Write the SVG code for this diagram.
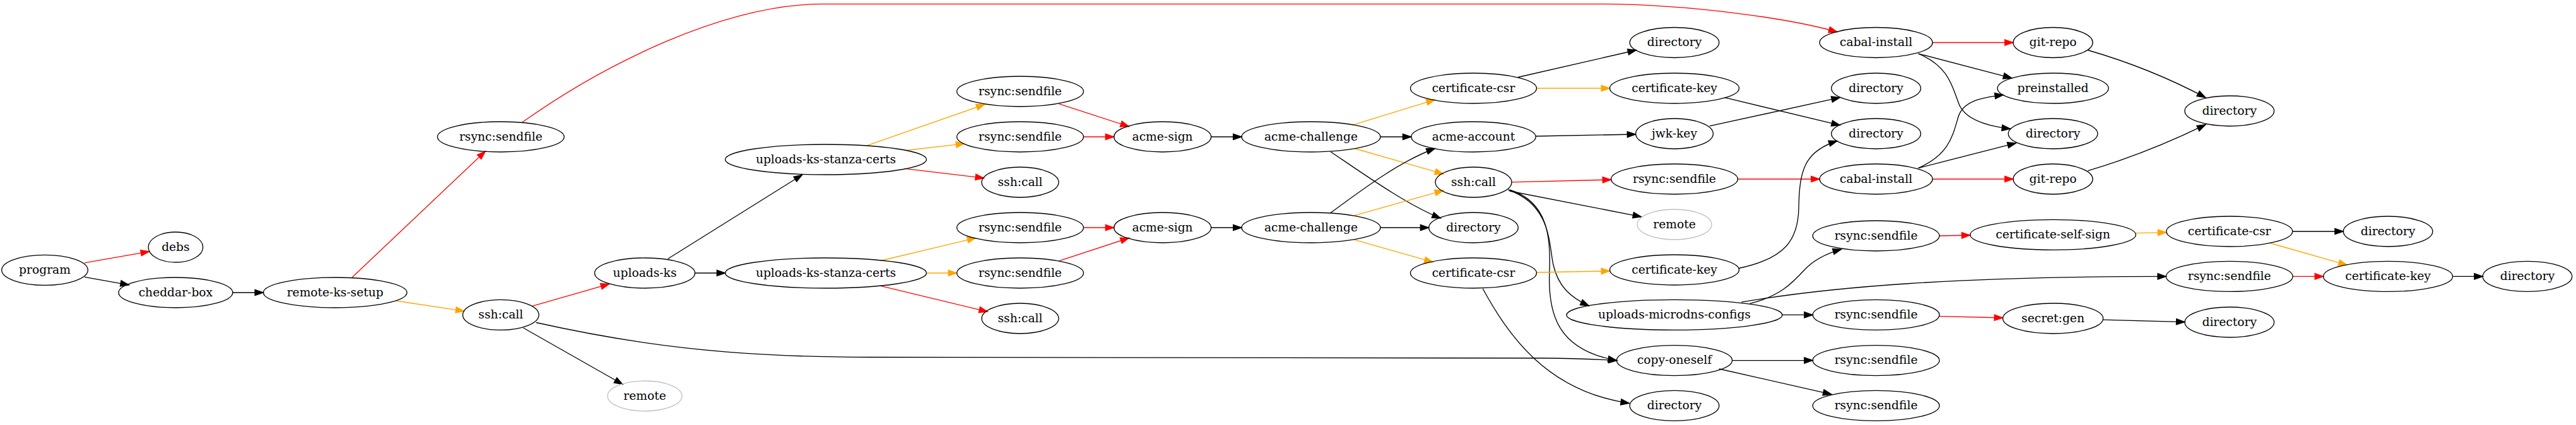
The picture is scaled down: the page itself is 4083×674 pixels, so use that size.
<svg xmlns="http://www.w3.org/2000/svg" width="4083" height="674" viewBox="0 0 4083 674">
<style>
ellipse{fill:none;stroke:#000;stroke-width:1.33}
ellipse.g{stroke:#c0c0c0}
text{font-family:"DejaVu Serif","Liberation Serif",serif;font-size:18.67px;text-anchor:middle;fill:#000}
path.e{fill:none;stroke-width:1.33}
.k{stroke:#000}
.r{stroke:#ff0000}
.o{stroke:#ffa500}
</style>
<defs>
<marker id="ak" markerUnits="userSpaceOnUse" markerWidth="16" markerHeight="12" refX="13.33" refY="4.67" orient="auto" overflow="visible"><path d="M0,0 L13.33,4.67 L0,9.33 Z" fill="#000" stroke="#000" stroke-width="1.33"/></marker>
<marker id="ar" markerUnits="userSpaceOnUse" markerWidth="16" markerHeight="12" refX="13.33" refY="4.67" orient="auto" overflow="visible"><path d="M0,0 L13.33,4.67 L0,9.33 Z" fill="#ff0000" stroke="#ff0000" stroke-width="1.33"/></marker>
<marker id="ao" markerUnits="userSpaceOnUse" markerWidth="16" markerHeight="12" refX="13.33" refY="4.67" orient="auto" overflow="visible"><path d="M0,0 L13.33,4.67 L0,9.33 Z" fill="#ffa500" stroke="#ffa500" stroke-width="1.33"/></marker>
</defs>
<rect width="4083" height="674" fill="#fff"/>
<g id="edges">
<path class="e r" marker-end="url(#ar)" d="M133.9,416.9 L236.6,398.9"/>
<path class="e k" marker-end="url(#ak)" d="M133.9,439.3 L204.4,451.8"/>
<path class="e k" marker-end="url(#ak)" d="M368.8,464 L417.4,464"/>
<path class="e r" marker-end="url(#ar)" d="M558,440 L769.3,239.8"/>
<path class="e o" marker-end="url(#ao)" d="M627.2,477 L735.8,493.4"/>
<path class="e r" marker-end="url(#ar)" d="M827.3,194.3 C960,100 1150,6.4 1305,6.4 L2531,6.4 C2680,6.4 2840,30 2912,50.7"/>
<path class="e r" marker-end="url(#ar)" d="M843,485.7 L965.7,450.4"/>
<path class="e k" marker-end="url(#ak)" d="M829.5,520 L987,609.5"/>
<path class="e k" marker-end="url(#ak)" d="M849.6,511.5 C1000,545 1150,566.5 1380,566.5 L2450,568 C2500,568 2530,570 2563,571.6"/>
<path class="e k" marker-end="url(#ak)" d="M1058.5,410.5 L1271.5,277.2"/>
<path class="e k" marker-end="url(#ak)" d="M1101.5,433 L1149.6,433"/>
<path class="e o" marker-end="url(#ao)" d="M1373.4,231.2 L1560.9,165.5"/>
<path class="e o" marker-end="url(#ao)" d="M1435.9,238.5 L1528.7,227.8"/>
<path class="e r" marker-end="url(#ar)" d="M1433.7,267.3 L1559.5,282.4"/>
<path class="e o" marker-end="url(#ao)" d="M1395.7,413.5 L1546.6,377.4"/>
<path class="e o" marker-end="url(#ao)" d="M1468.5,433 L1516.6,433"/>
<path class="e r" marker-end="url(#ar)" d="M1395.7,453.4 L1565.3,494.3"/>
<path class="e r" marker-end="url(#ar)" d="M1678.3,164.6 L1789.4,200.7"/>
<path class="e r" marker-end="url(#ar)" d="M1717.4,217 L1765.6,217"/>
<path class="e r" marker-end="url(#ar)" d="M1717.4,361 L1765.6,361"/>
<path class="e r" marker-end="url(#ar)" d="M1678.3,413.9 L1789.4,377.4"/>
<path class="e k" marker-end="url(#ak)" d="M1919.6,217 L1968,217"/>
<path class="e k" marker-end="url(#ak)" d="M1919.6,361 L1968,361"/>
<path class="e o" marker-end="url(#ao)" d="M2142.7,198.6 L2274.4,158.2"/>
<path class="e k" marker-end="url(#ak)" d="M2188,217 L2236.8,217"/>
<path class="e o" marker-end="url(#ao)" d="M2147.1,235.5 L2287.8,275.9"/>
<path class="e k" marker-end="url(#ak)" d="M2109.2,240.7 C2160,275 2230,325 2283.3,346"/>
<path class="e k" marker-end="url(#ak)" d="M2109.2,337.4 C2160,300 2220,255 2274.4,235.5"/>
<path class="e o" marker-end="url(#ao)" d="M2147.1,341.7 L2287.8,302.1"/>
<path class="e k" marker-end="url(#ak)" d="M2188,361 L2264.7,361"/>
<path class="e o" marker-end="url(#ao)" d="M2147.1,380.4 L2271.2,415.6"/>
<path class="e k" marker-end="url(#ak)" d="M2406,122.5 L2593.5,79.5"/>
<path class="e o" marker-end="url(#ao)" d="M2435.5,140 L2551.5,140"/>
<path class="e k" marker-end="url(#ak)" d="M2434.2,216 L2592.6,213"/>
<path class="e r" marker-end="url(#ar)" d="M2396,288.8 L2553.6,285"/>
<path class="e k" marker-end="url(#ak)" d="M2392.7,303 L2601.6,343.8"/>
<path class="e k" marker-end="url(#ak)" d="M2390.4,301 C2460,325 2455,390 2462,420 C2470,455 2490,472 2518.5,485"/>
<path class="e k" marker-end="url(#ak)" d="M2392.7,301 C2455,320 2458,380 2456,430 C2453,500 2470,555 2562.3,571.6"/>
<path class="e o" marker-end="url(#ao)" d="M2435.5,432 L2551.5,429.8"/>
<path class="e k" marker-end="url(#ak)" d="M2350.2,457.7 C2390,530 2450,620 2582.4,639.5"/>
<path class="e k" marker-end="url(#ak)" d="M2733.4,154.7 L2916.4,198.6"/>
<path class="e k" marker-end="url(#ak)" d="M2709.6,199.9 L2916.4,154.7"/>
<path class="e r" marker-end="url(#ar)" d="M2754.4,284 L2884.1,284"/>
<path class="e k" marker-end="url(#ak)" d="M2755.7,425.5 C2830,410 2850,380 2851,330 C2852,270 2860,240 2912,223.5"/>
<path class="e k" marker-end="url(#ak)" d="M2773.6,481.4 C2820,470 2840,450 2860,428 C2875,412 2895,402 2918.6,395.4"/>
<path class="e k" marker-end="url(#ak)" d="M2825,499.4 L2873.2,499.4"/>
<path class="e k" marker-end="url(#ak)" d="M2760.2,479.2 C2900,455 3100,438.4 3433.3,438.4"/>
<path class="e k" marker-end="url(#ak)" d="M2745.6,571.6 L2873.2,571.6"/>
<path class="e k" marker-end="url(#ak)" d="M2725,585 L2903,625.4"/>
<path class="e r" marker-end="url(#ar)" d="M3063.1,67.5 L3191,67.5"/>
<path class="e k" marker-end="url(#ak)" d="M3040.5,85.1 L3188.7,123.8"/>
<path class="e k" marker-end="url(#ak)" d="M3040.5,85.1 C3090,105 3095,140 3105,165 C3115,190 3150,200 3186.5,204.2"/>
<path class="e k" marker-end="url(#ak)" d="M3040.5,266.5 C3090,245 3095,215 3104,185 C3112,160 3140,155 3175.3,150.4"/>
<path class="e k" marker-end="url(#ak)" d="M3040.5,266.5 L3195.4,226.9"/>
<path class="e r" marker-end="url(#ar)" d="M3063.1,284 L3191,284"/>
<path class="e k" marker-end="url(#ak)" d="M3309.2,79.5 C3380,100 3440,125 3495.8,154.7"/>
<path class="e k" marker-end="url(#ak)" d="M3309.2,270.8 C3380,250 3440,225 3495.8,197.7"/>
<path class="e r" marker-end="url(#ar)" d="M3074,374 L3122.7,373"/>
<path class="e r" marker-end="url(#ar)" d="M3074,501.6 L3174.5,504"/>
<path class="e o" marker-end="url(#ao)" d="M3385.3,369.6 L3433.7,368.6"/>
<path class="e k" marker-end="url(#ak)" d="M3333.5,507.2 L3462.9,510.6"/>
<path class="e k" marker-end="url(#ak)" d="M3633.7,367 L3714.2,367"/>
<path class="e o" marker-end="url(#ao)" d="M3598.2,385.5 L3720.2,420.3"/>
<path class="e r" marker-end="url(#ar)" d="M3634.1,438.4 L3682.5,438.4"/>
<path class="e k" marker-end="url(#ak)" d="M3887.5,438.4 L3935.2,438.4"/>
</g>
<g id="n-program"><ellipse cx="71" cy="428.3" rx="68.3" ry="24"/><text x="71" y="434">program</text></g>
<g id="n-debs"><ellipse cx="278.4" cy="392" rx="43.3" ry="24"/><text x="278.4" y="397.6">debs</text></g>
<g id="n-cheddar-box"><ellipse cx="278.4" cy="464" rx="90.4" ry="24"/><text x="278.4" y="469.6">cheddar-box</text></g>
<g id="n-remote-ks-setup"><ellipse cx="531.2" cy="464" rx="113.8" ry="24"/><text x="531.2" y="469.6">remote-ks-setup</text></g>
<g id="n-rsync1"><ellipse cx="793.8" cy="217" rx="100.4" ry="24"/><text x="793.8" y="222.6">rsync:sendfile</text></g>
<g id="n-sshcall1"><ellipse cx="793.8" cy="499.4" rx="60.3" ry="24"/><text x="793.8" y="505">ssh:call</text></g>
<g id="n-uploads-ks"><ellipse cx="1022" cy="433" rx="79.5" ry="24"/><text x="1022" y="438.6">uploads-ks</text></g>
<g id="n-remote1"><ellipse class="g" cx="1022" cy="628" rx="59" ry="24"/><text x="1022" y="633.6">remote</text></g>
<g id="n-uksc1"><ellipse cx="1309" cy="253" rx="159.5" ry="24"/><text x="1309" y="258.6">uploads-ks-stanza-certs</text></g>
<g id="n-uksc2"><ellipse cx="1309" cy="433" rx="159.5" ry="24"/><text x="1309" y="438.6">uploads-ks-stanza-certs</text></g>
<g id="n-rsyncA"><ellipse cx="1617" cy="145" rx="100.4" ry="24"/><text x="1617" y="150.6">rsync:sendfile</text></g>
<g id="n-rsyncB"><ellipse cx="1617" cy="217" rx="100.4" ry="24"/><text x="1617" y="222.6">rsync:sendfile</text></g>
<g id="n-sshA"><ellipse cx="1617" cy="289" rx="61" ry="24"/><text x="1617" y="294.6">ssh:call</text></g>
<g id="n-rsyncC"><ellipse cx="1617" cy="361" rx="100.4" ry="24"/><text x="1617" y="366.6">rsync:sendfile</text></g>
<g id="n-rsyncD"><ellipse cx="1617" cy="433" rx="100.4" ry="24"/><text x="1617" y="438.6">rsync:sendfile</text></g>
<g id="n-sshB"><ellipse cx="1617" cy="505" rx="61" ry="24"/><text x="1617" y="510.6">ssh:call</text></g>
<g id="n-signA"><ellipse cx="1842.6" cy="217" rx="77" ry="24"/><text x="1842.6" y="222.6">acme-sign</text></g>
<g id="n-signB"><ellipse cx="1842.6" cy="361" rx="77" ry="24"/><text x="1842.6" y="366.6">acme-sign</text></g>
<g id="n-chalA"><ellipse cx="2078" cy="217" rx="110" ry="24"/><text x="2078" y="222.6">acme-challenge</text></g>
<g id="n-chalB"><ellipse cx="2078" cy="361" rx="110" ry="24"/><text x="2078" y="366.6">acme-challenge</text></g>
<g id="n-csrA"><ellipse cx="2335.5" cy="140" rx="100" ry="24"/><text x="2335.5" y="145.6">certificate-csr</text></g>
<g id="n-account"><ellipse cx="2335.5" cy="217" rx="98.7" ry="24"/><text x="2335.5" y="222.6">acme-account</text></g>
<g id="n-sshC"><ellipse cx="2335.5" cy="289" rx="60.5" ry="24"/><text x="2335.5" y="294.6">ssh:call</text></g>
<g id="n-dirM"><ellipse cx="2335.5" cy="361" rx="70.8" ry="24"/><text x="2335.5" y="366.6">directory</text></g>
<g id="n-csrB"><ellipse cx="2335.5" cy="433" rx="100" ry="24"/><text x="2335.5" y="438.6">certificate-csr</text></g>
<g id="n-dirT"><ellipse cx="2654" cy="67.5" rx="70.8" ry="24"/><text x="2654" y="73.1">directory</text></g>
<g id="n-keyA"><ellipse cx="2654" cy="140" rx="102.5" ry="24"/><text x="2654" y="145.6">certificate-key</text></g>
<g id="n-jwk"><ellipse cx="2654" cy="212" rx="61.4" ry="24"/><text x="2654" y="217.6">jwk-key</text></g>
<g id="n-rsyncE"><ellipse cx="2654" cy="284" rx="100.4" ry="24"/><text x="2654" y="289.6">rsync:sendfile</text></g>
<g id="n-remote2"><ellipse class="g" cx="2654" cy="356" rx="59" ry="24"/><text x="2654" y="361.6">remote</text></g>
<g id="n-keyB"><ellipse cx="2654" cy="428" rx="102.5" ry="24"/><text x="2654" y="433.6">certificate-key</text></g>
<g id="n-umc"><ellipse cx="2654" cy="499.4" rx="171" ry="24"/><text x="2654" y="505">uploads-microdns-configs</text></g>
<g id="n-copy"><ellipse cx="2654" cy="571.6" rx="91.6" ry="24"/><text x="2654" y="577.2">copy-oneself</text></g>
<g id="n-dirB"><ellipse cx="2654" cy="643.4" rx="70.8" ry="24"/><text x="2654" y="649">directory</text></g>
<g id="n-cabalA"><ellipse cx="2973.6" cy="67.5" rx="89.5" ry="24"/><text x="2973.6" y="73.1">cabal-install</text></g>
<g id="n-dir2a"><ellipse cx="2973.6" cy="140" rx="70.8" ry="24"/><text x="2973.6" y="145.6">directory</text></g>
<g id="n-dir2b"><ellipse cx="2973.6" cy="212" rx="70.8" ry="24"/><text x="2973.6" y="217.6">directory</text></g>
<g id="n-cabalB"><ellipse cx="2973.6" cy="284" rx="89.5" ry="24"/><text x="2973.6" y="289.6">cabal-install</text></g>
<g id="n-rsyncF"><ellipse cx="2973.6" cy="374" rx="100.4" ry="24"/><text x="2973.6" y="379.6">rsync:sendfile</text></g>
<g id="n-rsyncG"><ellipse cx="2973.6" cy="499.4" rx="100.4" ry="24"/><text x="2973.6" y="505">rsync:sendfile</text></g>
<g id="n-rsyncH"><ellipse cx="2973.6" cy="571.6" rx="100.4" ry="24"/><text x="2973.6" y="577.2">rsync:sendfile</text></g>
<g id="n-rsyncI"><ellipse cx="2973.6" cy="643.4" rx="100.4" ry="24"/><text x="2973.6" y="649">rsync:sendfile</text></g>
<g id="n-gitA"><ellipse cx="3254" cy="67.5" rx="63" ry="24"/><text x="3254" y="73.1">git-repo</text></g>
<g id="n-pre"><ellipse cx="3254" cy="140" rx="88" ry="24"/><text x="3254" y="145.6">preinstalled</text></g>
<g id="n-dir3"><ellipse cx="3254" cy="212" rx="70.8" ry="24"/><text x="3254" y="217.6">directory</text></g>
<g id="n-gitB"><ellipse cx="3254" cy="284" rx="63" ry="24"/><text x="3254" y="289.6">git-repo</text></g>
<g id="n-css"><ellipse cx="3254" cy="372.3" rx="131.3" ry="24"/><text x="3254" y="377.9">certificate-self-sign</text></g>
<g id="n-secret"><ellipse cx="3254" cy="505" rx="79.5" ry="24"/><text x="3254" y="510.6">secret:gen</text></g>
<g id="n-dir4a"><ellipse cx="3533.7" cy="176" rx="70.8" ry="24"/><text x="3533.7" y="181.6">directory</text></g>
<g id="n-csrC"><ellipse cx="3533.7" cy="367" rx="100" ry="24"/><text x="3533.7" y="372.6">certificate-csr</text></g>
<g id="n-rsyncJ"><ellipse cx="3533.7" cy="438.4" rx="100.4" ry="24"/><text x="3533.7" y="444">rsync:sendfile</text></g>
<g id="n-dir4b"><ellipse cx="3533.7" cy="511" rx="70.8" ry="24"/><text x="3533.7" y="516.6">directory</text></g>
<g id="n-dir5"><ellipse cx="3785" cy="367" rx="70.8" ry="24"/><text x="3785" y="372.6">directory</text></g>
<g id="n-keyC"><ellipse cx="3785" cy="438.4" rx="102.5" ry="24"/><text x="3785" y="444">certificate-key</text></g>
<g id="n-dir6"><ellipse cx="4006" cy="438.4" rx="70.8" ry="24"/><text x="4006" y="444">directory</text></g>
</svg>
